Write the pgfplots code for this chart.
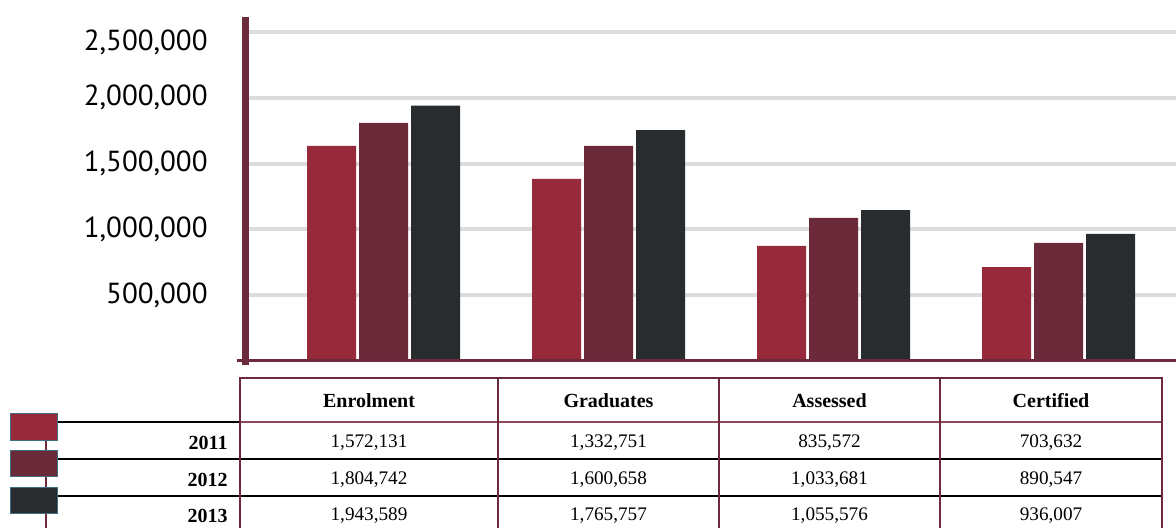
\documentclass[border=0pt]{standalone}
\usepackage{fontspec}
\setmainfont{Liberation Serif}
\newfontfamily\ticksans{PT Sans}
\usepackage{pgfplots}
\pgfplotsset{compat=1.18}
\definecolor{cA}{HTML}{962A3A}
\definecolor{cB}{HTML}{6A2A3A}
\definecolor{cC}{HTML}{282C2E}
\definecolor{axc}{HTML}{6B2B3D}
\definecolor{hdr}{HTML}{8A4A5A}
\definecolor{gridc}{HTML}{DCDCDC}
\definecolor{swo}{HTML}{3F6E82}
\begin{document}
\begin{tikzpicture}
\useasboundingbox (0pt,0pt) rectangle (588pt,264pt);
\begin{axis}[
  at={(122.5pt,83.5pt)}, anchor=south west,
  scale only axis, width=465.5pt, height=172pt,
  xmin=-0.6156, xmax=3.522, ymin=0, ymax=2614000,
  axis line style={draw=none},
  xtick=\empty,
  ytick={500000,1000000,1500000,2000000},
  extra y ticks={2500000},
  extra y tick style={ymajorgrids=true, yticklabel style={yshift=-5pt}},
  major tick length=0pt,
  ymajorgrids,
  major grid style={line width=2pt, gridc},
  scaled y ticks=false,
  yticklabel style={font=\ticksans\fontsize{14.5}{16}\selectfont, inner sep=0pt, anchor=east, xshift=-18.5pt,
    /pgf/number format/fixed, /pgf/number format/1000 sep={,}, /pgf/number format/assume math mode=true},
  ybar=1.5pt, bar width=24.5pt,
  clip=false,
]
\addplot[fill=cA, draw=none] coordinates {(0,1634000) (1,1383000) (2,874000) (3,714000)};
\addplot[fill=cB, draw=none] coordinates {(0,1810000) (1,1634000) (2,1087000) (3,897000)};
\addplot[fill=cC, draw=none] coordinates {(0,1940000) (1,1755000) (2,1147000) (3,965000)};
\end{axis}
\begin{scope}[x=0.5pt,y=0.5pt]
% axis lines
\draw[axc, line width=1.5pt] (237,167) -- (1176,167);
\draw[axc, line width=3.5pt] (245,163) -- (245,511);
% legend connector
\draw[axc, line width=0.8pt] (46,87) -- (46,0);
% black row lines
\draw[black, line width=1pt] (57,106) -- (240,106);
\draw[black, line width=1pt] (57,69) -- (1162,69);
\draw[black, line width=1pt] (57,32) -- (1162,32);
% header bottom line inside table
\draw[hdr, line width=0.8pt] (240,106) -- (1162,106);
% table borders
\draw[axc, line width=1pt] (240,-5) -- (240,150) -- (1162,150) -- (1162,-5);
\foreach \xx in {498,719,940} \draw[axc, line width=1pt] (\xx,150) -- (\xx,-5);
% swatches
\draw[swo, line width=0.5pt, fill=cA] (10,87) rectangle (57,114);
\draw[swo, line width=0.5pt, fill=cB] (10,51) rectangle (57,77);
\draw[swo, line width=0.5pt, fill=cC] (10,14) rectangle (57,40);
% header text
\begin{scope}[every node/.style={font=\bfseries\fontsize{10}{12}\selectfont, inner sep=0pt}]
\node at (369,127) {Enrolment};
\node at (608.5,127) {Graduates};
\node at (829.5,127) {Assessed};
\node at (1051,127) {Certified};
\node[anchor=east] at (228,85) {2011};
\node[anchor=east] at (228,48) {2012};
\node[anchor=east] at (228,12) {2013};
\end{scope}
\begin{scope}[every node/.style={font=\fontsize{9.6}{11}\selectfont, inner sep=0pt}]
\node at (369,85) {1,572,131};
\node at (608.5,85) {1,332,751};
\node at (829.5,85) {835,572};
\node at (1051,85) {703,632};
\node at (369,48) {1,804,742};
\node at (608.5,48) {1,600,658};
\node at (829.5,48) {1,033,681};
\node at (1051,48) {890,547};
\node at (369,12) {1,943,589};
\node at (608.5,12) {1,765,757};
\node at (829.5,12) {1,055,576};
\node at (1051,12) {936,007};
\end{scope}
\end{scope}
\end{tikzpicture}
\end{document}
